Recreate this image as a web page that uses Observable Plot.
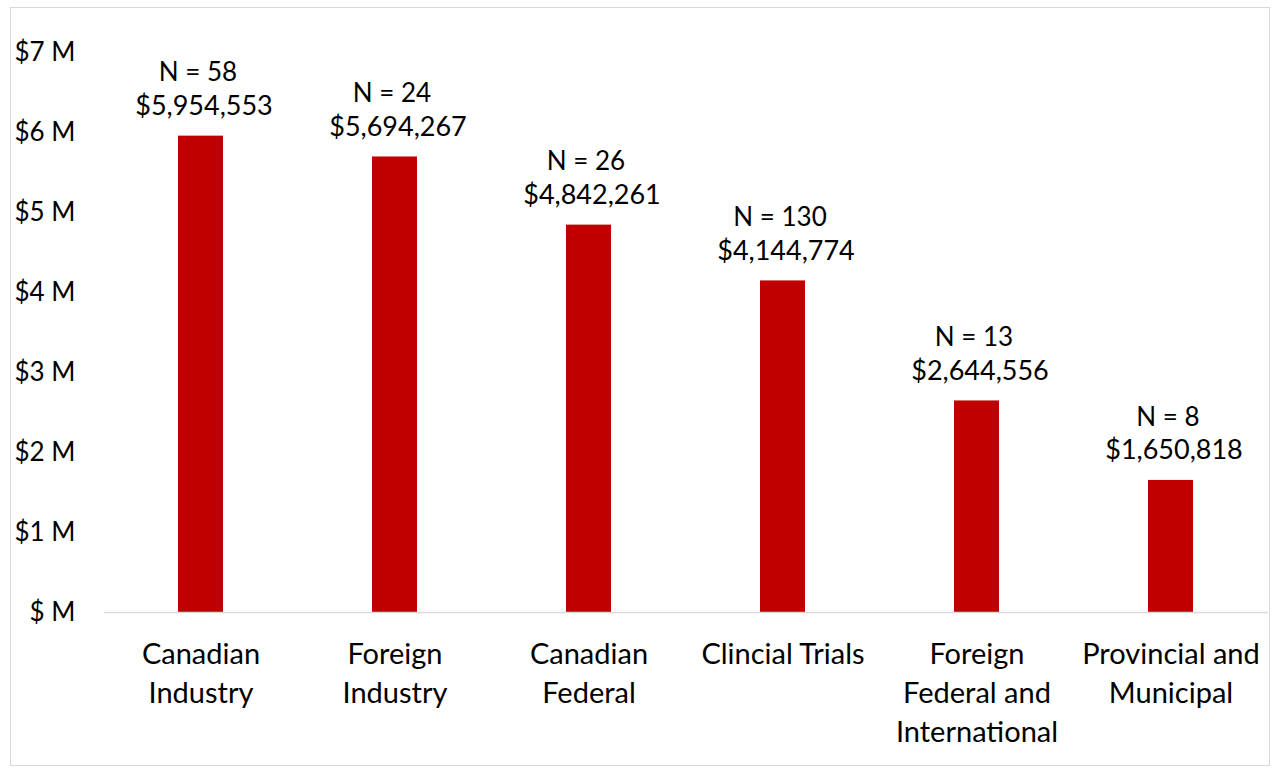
<!DOCTYPE html>
<html>
<head>
<meta charset="utf-8">
<script src="https://cdn.jsdelivr.net/npm/d3@7"></script>
<script src="https://cdn.jsdelivr.net/npm/@observablehq/plot@0.6"></script>
<style>
  html, body { margin: 0; padding: 0; background: #fff; }
  #wrap { position: relative; width: 1275px; height: 769px; }
  #border { position: absolute; left: 10px; top: 7px; width: 1260px; height: 759px; border: 1.5px solid #d9d9d9; box-sizing: border-box; pointer-events: none; }
  #chart { position: absolute; left: 0; top: 0; }
</style>
</head>
<body>
<div id="wrap">
  <div id="chart"></div>
  <div id="border"></div>
</div>
<script>
const categories = ["Canadian Industry", "Foreign Industry", "Canadian Federal", "Clincial Trials", "Foreign Federal and International", "Provincial and Municipal"];
const tickLabels = ["Canadian\nIndustry", "Foreign\nIndustry", "Canadian\nFederal", "Clincial Trials", "Foreign\nFederal and\nInternational", "Provincial and\nMunicipal"];
const amounts = [5954553, 5694267, 4842261, 4144774, 2644556, 1650818];
const counts = [58, 24, 26, 130, 13, 8];
const yTicks = [0, 1, 2, 3, 4, 5, 6, 7];

const data = categories.map((c, i) => ({
  category: c,
  millions: amounts[i] / 1e6,
  amount: amounts[i],
  n: counts[i]
}));
const labelOf = new Map(categories.map((c, i) => [c, tickLabels[i]]));
const fmt = d3.format("$,");

const chart = Plot.plot({
  width: 1275,
  height: 769,
  marginTop: 52,
  marginBottom: 157,
  marginLeft: 104,
  marginRight: 7,
  style: { fontFamily: "Lato, 'Open Sans', sans-serif", color: "#000", background: "transparent" },
  x: { domain: categories, paddingInner: 0.768, paddingOuter: 0.384, label: null },
  y: { domain: [0, 7], label: null },
  marks: [
    Plot.axisY({ ticks: yTicks, tickSize: 0, tickPadding: 29, fontSize: 26, tickFormat: d => d === 0 ? "$ M" : `$${d} M`, label: null }),
    Plot.axisX({ tickSize: 0, tickPadding: 24, fontSize: 29, lineHeight: 1.34, tickFormat: d => labelOf.get(d), label: null }),
    Plot.barY(data, { x: "category", y: "millions", fill: "#C00000" }),
    Plot.ruleY([0], { stroke: "#d9d9d9", strokeWidth: 1.5 }),
    Plot.text(data, { x: "category", y: "millions", text: d => fmt(d.amount), dy: -30, dx: 3, fontSize: 27, fill: "#000", lineAnchor: "middle" }),
    Plot.text(data, { x: "category", y: "millions", text: d => `N = ${d.n}`, dy: -63, dx: -3, fontSize: 26, fill: "#000", lineAnchor: "middle" })
  ]
});
document.getElementById("chart").appendChild(chart);
</script>
</body>
</html>
